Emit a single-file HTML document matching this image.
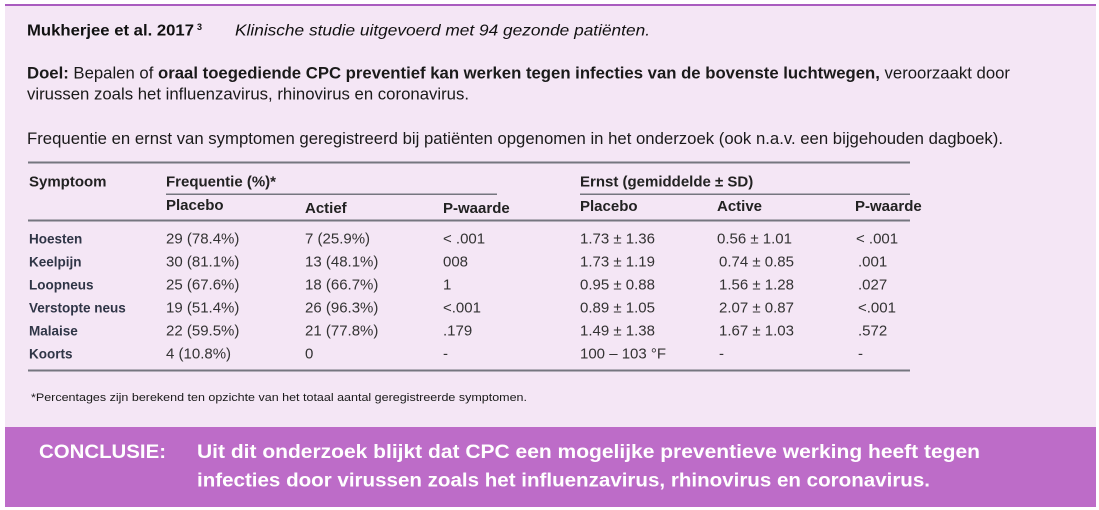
<!DOCTYPE html>
<html>
<head>
<meta charset="utf-8">
<style>
  html,body{margin:0;padding:0;background:#ffffff;}
  svg{display:block;}
  text{font-family:"Liberation Sans",Arial,sans-serif;}
</style>
</head>
<body>
<svg width="1099" height="510" viewBox="0 0 1099 510" xmlns="http://www.w3.org/2000/svg">
  <rect x="0" y="0" width="1099" height="510" fill="#ffffff"/>
  <!-- panel -->
  <rect x="5" y="4" width="1091" height="423" fill="#f4e6f5"/>
  <rect x="5" y="4" width="1091" height="2" fill="#a95cbf"/>
  <!-- conclusion box -->
  <rect x="5" y="427" width="1091" height="80" fill="#bd6cc8"/>

  <!-- header -->
  <text x="27" y="35.7" font-size="16" font-weight="bold" fill="#111" textLength="167" lengthAdjust="spacingAndGlyphs">Mukherjee et al. 2017</text>
  <text x="197" y="30" font-size="9" font-weight="bold" fill="#111">3</text>
  <text x="235" y="35.7" font-size="16" font-style="italic" fill="#111" textLength="415" lengthAdjust="spacingAndGlyphs">Klinische studie uitgevoerd met 94 gezonde patiënten.</text>

  <text x="27" y="78.5" font-size="16.5" fill="#1a1a1a" textLength="983" lengthAdjust="spacingAndGlyphs"><tspan font-weight="bold">Doel:</tspan> Bepalen of <tspan font-weight="bold">oraal toegediende CPC preventief kan werken tegen infecties van de bovenste luchtwegen,</tspan> veroorzaakt door</text>
  <text x="27" y="99.5" font-size="16.5" fill="#1a1a1a" textLength="442" lengthAdjust="spacingAndGlyphs">virussen zoals het influenzavirus, rhinovirus en coronavirus.</text>

  <text x="27" y="144" font-size="16.5" fill="#1a1a1a" textLength="976" lengthAdjust="spacingAndGlyphs">Frequentie en ernst van symptomen geregistreerd bij patiënten opgenomen in het onderzoek (ook n.a.v. een bijgehouden dagboek).</text>

  <!-- table lines -->
  <rect x="28" y="161.5" width="882" height="2" fill="#75767f"/>
  <rect x="166" y="193.5" width="331" height="1.5" fill="#75767f"/>
  <rect x="580" y="193.5" width="330" height="1.5" fill="#75767f"/>
  <rect x="28" y="219.5" width="882" height="2" fill="#75767f"/>
  <rect x="28" y="369.5" width="882" height="2" fill="#75767f"/>

  <!-- table headers -->
  <g font-size="15" font-weight="bold" fill="#222">
    <text x="29" y="186.7">Symptoom</text>
    <text x="166" y="186.7">Frequentie (%)*</text>
    <text x="580" y="186.7">Ernst (gemiddelde ± SD)</text>
    <text x="166" y="210">Placebo</text>
    <text x="305" y="213">Actief</text>
    <text x="443" y="213">P-waarde</text>
    <text x="580" y="211">Placebo</text>
    <text x="717" y="211">Active</text>
    <text x="855" y="211">P-waarde</text>
  </g>

  <!-- row labels -->
  <g font-size="13.5" font-weight="bold" fill="#2f3546">
    <text x="29" y="243.3">Hoesten</text>
    <text x="29" y="266.3">Keelpijn</text>
    <text x="29" y="289.3">Loopneus</text>
    <text x="29" y="312.3">Verstopte neus</text>
    <text x="29" y="335.3">Malaise</text>
    <text x="29" y="358.3">Koorts</text>
  </g>

  <!-- data -->
  <g font-size="15" fill="#333">
    <text x="166" y="243.3">29 (78.4%)</text>
    <text x="166" y="266.3">30 (81.1%)</text>
    <text x="166" y="289.3">25 (67.6%)</text>
    <text x="166" y="312.3">19 (51.4%)</text>
    <text x="166" y="335.3">22 (59.5%)</text>
    <text x="166" y="358.3">4 (10.8%)</text>

    <text x="305" y="243.3">7 (25.9%)</text>
    <text x="305" y="266.3">13 (48.1%)</text>
    <text x="305" y="289.3">18 (66.7%)</text>
    <text x="305" y="312.3">26 (96.3%)</text>
    <text x="305" y="335.3">21 (77.8%)</text>
    <text x="305" y="358.3">0</text>

    <text x="443" y="243.3">&lt; .001</text>
    <text x="443" y="266.3">008</text>
    <text x="443" y="289.3">1</text>
    <text x="443" y="312.3">&lt;.001</text>
    <text x="443" y="335.3">.179</text>
    <text x="443" y="358.3">-</text>

    <text x="580" y="243.3">1.73 ± 1.36</text>
    <text x="580" y="266.3">1.73 ± 1.19</text>
    <text x="580" y="289.3">0.95 ± 0.88</text>
    <text x="580" y="312.3">0.89 ± 1.05</text>
    <text x="580" y="335.3">1.49 ± 1.38</text>
    <text x="580" y="358.3">100 – 103 °F</text>

    <text x="717" y="243.3">0.56 ± 1.01</text>
    <text x="719" y="266.3">0.74 ± 0.85</text>
    <text x="719" y="289.3">1.56 ± 1.28</text>
    <text x="719" y="312.3">2.07 ± 0.87</text>
    <text x="719" y="335.3">1.67 ± 1.03</text>
    <text x="719" y="358.3">-</text>

    <text x="856" y="243.3">&lt; .001</text>
    <text x="858" y="266.3">.001</text>
    <text x="858" y="289.3">.027</text>
    <text x="858" y="312.3">&lt;.001</text>
    <text x="858" y="335.3">.572</text>
    <text x="858" y="358.3">-</text>
  </g>

  <!-- footnote -->
  <text x="31" y="401" font-size="11.3" fill="#1a1a1a" textLength="496" lengthAdjust="spacingAndGlyphs">*Percentages zijn berekend ten opzichte van het totaal aantal geregistreerde symptomen.</text>

  <!-- conclusion -->
  <g font-size="19" font-weight="bold" fill="#ffffff">
    <text x="39" y="458" textLength="127" lengthAdjust="spacingAndGlyphs">CONCLUSIE:</text>
    <text x="197" y="458" textLength="783" lengthAdjust="spacingAndGlyphs">Uit dit onderzoek blijkt dat CPC een mogelijke preventieve werking heeft tegen</text>
    <text x="197" y="486.5" textLength="733" lengthAdjust="spacingAndGlyphs">infecties door virussen zoals het influenzavirus, rhinovirus en coronavirus.</text>
  </g>
</svg>
</body>
</html>
